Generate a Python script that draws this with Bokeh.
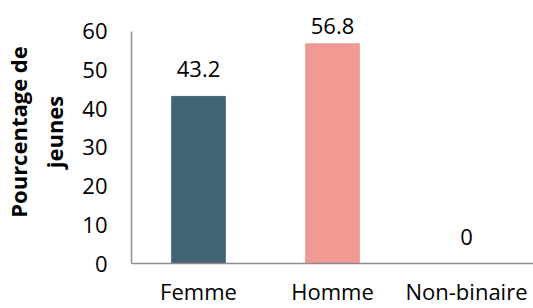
from bokeh.plotting import figure
from bokeh.models import Range1d, FactorRange, SingleIntervalTicker, ColumnDataSource
from bokeh.core.properties import value
from bokeh.embed import file_html
from bokeh.resources import INLINE

categories = ["Femme", "Homme", "Non-binaire"]
values = [43.2, 56.8, 0]
colors = ["#436474", "#F09A93", "#F09A93"]
value_labels = ["43.2", "56.8", "0"]
y_ticks_interval = 10
y_axis_max = 60

FONT = "Open Sans"

# labels near the top of the chart are pulled closer to their bar (as in the original)
label_offsets = [-10 if v > 0.9 * y_axis_max else -19 for v in values]

src = ColumnDataSource(dict(cat=categories, val=values, col=colors, lab=value_labels,
                            off=label_offsets))

p = figure(width=533, height=308, output_backend="svg", toolbar_location=None,
           x_range=FactorRange(*categories, range_padding=0), y_range=Range1d(0, 68.0),
           min_border_left=130, min_border_right=0, min_border_top=0, min_border_bottom=44)
p.outline_line_color = None
p.xgrid.grid_line_color = None
p.ygrid.grid_line_color = None

p.vbar(x="cat", top="val", width=0.4, color="col", source=src)
p.text(x="cat", y="val", text="lab", source=src, text_align="center", text_baseline="bottom",
       y_offset="off", text_font=value(FONT), text_font_size="22px", text_color="#000000")

p.yaxis.ticker = SingleIntervalTicker(interval=y_ticks_interval)
p.yaxis.bounds = (0, y_axis_max)
for ax in (p.xaxis[0], p.yaxis[0]):
    ax.axis_line_color = "#8C8C8C"
    ax.axis_line_width = 1.5
    ax.major_tick_line_color = None
    ax.minor_tick_line_color = None
    ax.major_tick_out = 0
    ax.major_tick_in = 0
    ax.minor_tick_out = 0
    ax.minor_tick_in = 0
    ax.major_label_text_font = FONT
    ax.major_label_text_font_size = "22px"
    ax.major_label_text_color = "#000000"

p.xaxis.major_label_standoff = 12
p.yaxis.major_label_standoff = 24
p.yaxis.axis_label = "Pourcentage de\njeunes"
p.yaxis.axis_label_text_font = FONT
p.yaxis.axis_label_text_font_style = "bold"
p.yaxis.axis_label_text_font_size = "22px"
p.yaxis.axis_label_text_color = "#000000"
p.yaxis.axis_label_standoff = 10

open("out.html", "w").write(file_html(p, INLINE))
